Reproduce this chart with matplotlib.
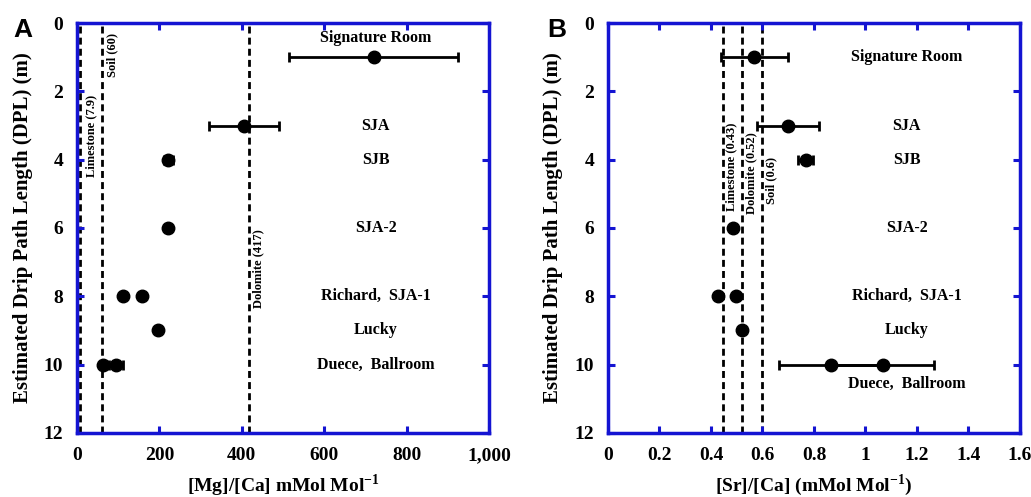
import matplotlib
matplotlib.use('Agg')
from matplotlib import pyplot as plt
from matplotlib.ticker import FuncFormatter, MultipleLocator

plt.rcParams['font.family'] = ['Liberation Serif', 'DejaVu Serif']
plt.rcParams['font.weight'] = 'bold'
plt.rcParams['mathtext.fontset'] = 'custom'
plt.rcParams['mathtext.rm'] = 'Liberation Serif:bold'
plt.rcParams['mathtext.bf'] = 'Liberation Serif:bold'

BLUE = '#1414d2'

# depth (DPL, m) of each site
sites = ['Signature Room', 'SJA', 'SJB', 'SJA-2', 'Richard', 'SJA-1', 'Lucky', 'Duece', 'Ballroom']
dpl = [1, 3, 4, 6, 8, 8, 9, 10, 10]

# panel A: Mg/Ca (mmol/mol)
mgca = [720, 405, 222, 221, 111, 157, 197, 62, 95]
mgca_err = [205, 85, 12, 0, 0, 0, 0, 0, 17]
mg_end = {'Limestone (7.9)': 7.9, 'Soil (60)': 60, 'Dolomite (417)': 417}

# panel B: Sr/Ca (mmol/mol)
srca = [0.568, 0.70, 0.768, 0.487, 0.428, 0.497, 0.519, 0.866, 1.068]
srca_err = [0.13, 0.12, 0.03, 0, 0, 0, 0, 0.2, 0.2]
sr_end = {'Limestone (0.43)': 0.445, 'Dolomite (0.52)': 0.522, 'Soil (0.6)': 0.60}

labels_a = [('Signature Room', 0.45), ('SJA', 3), ('SJB', 4), ('SJA-2', 6),
            ('Richard,  SJA-1', 8), ('Lucky', 9), ('Duece,  Ballroom', 10)]
labels_b = [('Signature Room', 1), ('SJA', 3), ('SJB', 4), ('SJA-2', 6),
            ('Richard,  SJA-1', 8), ('Lucky', 9), ('Duece,  Ballroom', 10.55)]

fig = plt.figure(figsize=(10.31, 4.97), dpi=100)
axA = fig.add_axes([0.0747, 0.1288, 0.3996, 0.8249])
axB = fig.add_axes([0.5897, 0.1288, 0.3996, 0.8249])


def style(ax):
    for s in ax.spines.values():
        s.set_color(BLUE)
        s.set_linewidth(2.5)
    ax.tick_params(which='both', direction='in', length=5, width=2.2, color=BLUE,
                   top=True, right=True, labelsize=14)
    ax.tick_params(axis='x', pad=10)
    ax.tick_params(axis='y', pad=10)
    ax.set_ylim(12, 0)
    ax.yaxis.set_major_locator(MultipleLocator(2))
    ax.set_ylabel('Estimated Drip Path Length (DPL) (m)', fontsize=15, fontweight='bold')


# ---- panel A
style(axA)
axA.set_xlim(0, 1000)
axA.xaxis.set_major_locator(MultipleLocator(200))
axA.xaxis.set_major_formatter(FuncFormatter(lambda v, p: '{:,.0f}'.format(v)))
for name, v in mg_end.items():
    axA.axvline(v, color='black', ls=(0, (2.5, 1.5)), lw=2, zorder=1)
axA.text(20, 3.3, 'Limestone (7.9)', rotation=90, ha='left', va='center', fontsize=9)
axA.text(72, 0.95, 'Soil (60)', rotation=90, ha='left', va='center', fontsize=9)
axA.text(425, 7.2, 'Dolomite (417)', rotation=90, ha='left', va='center', fontsize=9)
axA.errorbar(mgca, dpl, xerr=mgca_err, fmt='o', color='black', ms=9, capsize=3.5,
             elinewidth=2, capthick=2, zorder=3)
for txt, y in labels_a:
    axA.text(725, y, txt, ha='center', va='center', fontsize=11.5)
axA.set_xlabel('[Mg]/[Ca] mMol Mol$^{-1}$', fontsize=14, fontweight='bold', labelpad=6)
axA.yaxis.set_label_coords(-0.107, 0.5)
for t in axA.get_xticklabels() + axA.get_yticklabels():
    t.set_fontweight('bold')

# ---- panel B
style(axB)
axB.set_xlim(0, 1.6)
axB.xaxis.set_major_locator(MultipleLocator(0.2))
axB.xaxis.set_major_formatter(FuncFormatter(lambda v, p: '{:g}'.format(round(v, 1))))
for name, v in sr_end.items():
    axB.axvline(v, color='black', ls=(0, (2.5, 1.5)), lw=2, zorder=1)
axB.text(0.455, 4.2, 'Limestone (0.43)', rotation=90, ha='left', va='center', fontsize=9)
axB.text(0.532, 4.4, 'Dolomite (0.52)', rotation=90, ha='left', va='center', fontsize=9)
axB.text(0.61, 4.6, 'Soil (0.6)', rotation=90, ha='left', va='center', fontsize=9)
axB.errorbar(srca, dpl, xerr=srca_err, fmt='o', color='black', ms=9, capsize=3.5,
             elinewidth=2, capthick=2, zorder=3)
for txt, y in labels_b:
    axB.text(1.16, y, txt, ha='center', va='center', fontsize=11.5)
axB.set_xlabel('[Sr]/[Ca] (mMol Mol$^{-1}$)', fontsize=14, fontweight='bold', labelpad=6)
axB.yaxis.set_label_coords(-0.109, 0.5)
for t in axB.get_xticklabels() + axB.get_yticklabels():
    t.set_fontweight('bold')

fig.text(0.0126, 0.9256, 'A', fontsize=19, fontweight='bold', family='Liberation Sans')
fig.text(0.5305, 0.9256, 'B', fontsize=19, fontweight='bold', family='Liberation Sans')

fig.savefig('out.png', dpi=100)
